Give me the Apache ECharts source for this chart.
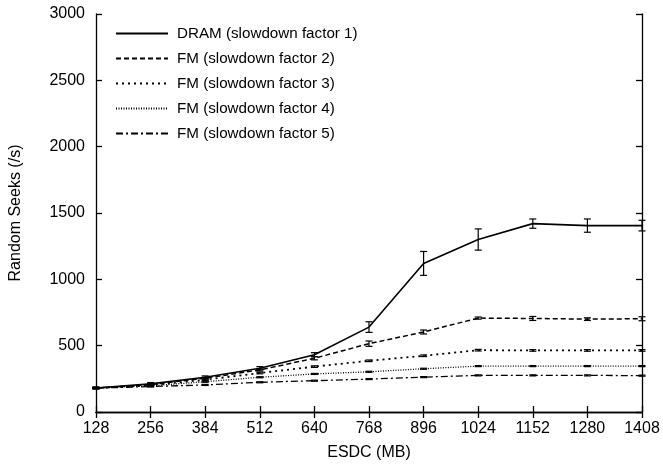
<!DOCTYPE html>
<html><head><meta charset="utf-8">
<script src="https://cdn.jsdelivr.net/npm/echarts@6/dist/echarts.min.js"></script>
<style>html,body{margin:0;padding:0;background:#fff}#c{width:663px;height:466px}</style>
</head><body><div id="c"></div>
<script>
var xs = [128, 256, 384, 512, 640, 768, 896, 1024, 1152, 1280, 1408];
var seriesNames = ['DRAM (slowdown factor 1)', 'FM (slowdown factor 2)', 'FM (slowdown factor 3)', 'FM (slowdown factor 4)', 'FM (slowdown factor 5)'];
var dram = [181, 212, 262, 330, 432, 640, 1120, 1300, 1420, 1405, 1405];
var fm2 = [181, 207, 255, 317, 405, 515, 603, 708, 705, 700, 703];
var fm3 = [181, 202, 243, 294, 342, 386, 424, 466, 464, 464, 464];
var fm4 = [181, 197, 228, 262, 287, 303, 326, 346, 346, 346, 346];
var fm5 = [180, 192, 204, 224, 236, 248, 263, 276, 276, 276, 274];
var dramErr = [8, 10, 10, 12, 15, 40, 90, 80, 35, 50, 40];
var fm2Err = [5, 6, 6, 8, 12, 20, 15, 8, 15, 10, 15];
var fm3Err = [4, 5, 5, 6, 6, 6, 6, 6, 6, 6, 6];
var fm4Err = [4, 4, 4, 4, 4, 4, 4, 4, 4, 4, 4];
var fm5Err = [4, 4, 4, 4, 4, 4, 4, 4, 4, 4, 4];
var yTicks = [0, 500, 1000, 1500, 2000, 2500, 3000];

var values = [dram, fm2, fm3, fm4, fm5];
var errs = [dramErr, fm2Err, fm3Err, fm4Err, fm5Err];
var dashes = ['solid', [5, 3], [2, 4], [1, 1.5], [7, 3, 2, 3]];
var widths = [1.6, 1.5, 1.8, 1.3, 1.3];

var series = [];
values.forEach(function (v, i) {
  series.push({
    name: seriesNames[i], type: 'line', symbol: 'none',
    data: xs.map(function (x, j) { return [x, v[j]]; }),
    lineStyle: { color: '#000', width: widths[i], type: dashes[i] },
    itemStyle: { color: '#000' }, z: 3
  });
  series.push({
    type: 'custom', silent: true, z: 4,
    data: xs.map(function (x, j) { return [x, v[j] - errs[i][j], v[j] + errs[i][j]]; }),
    renderItem: function (params, api) {
      var lo = api.coord([api.value(0), api.value(1)]);
      var hi = api.coord([api.value(0), api.value(2)]);
      var w = 3.5;
      var st = { stroke: '#000', lineWidth: 1.2, fill: null };
      return { type: 'group', children: [
        { type: 'line', shape: { x1: lo[0], y1: lo[1], x2: hi[0], y2: hi[1] }, style: st },
        { type: 'line', shape: { x1: lo[0] - w, y1: lo[1], x2: lo[0] + w, y2: lo[1] }, style: st },
        { type: 'line', shape: { x1: hi[0] - w, y1: hi[1], x2: hi[0] + w, y2: hi[1] }, style: st }
      ] };
    }
  });
});

var font = 'Liberation Sans, Arial, sans-serif';
var plain = function (v) { return String(v); };
var chart = echarts.init(document.getElementById('c'), null, { renderer: 'canvas' });
chart.setOption({
  animation: false,
  backgroundColor: '#fff',
  grid: { left: 95, right: 21, top: 14, bottom: 53, show: false },
  legend: {
    data: seriesNames, orient: 'vertical', left: 110, top: 21,
    itemWidth: 52, itemHeight: 14, itemGap: 10,
    itemStyle: { opacity: 0 },
    textStyle: { color: '#000', fontSize: 15.2, fontFamily: font, padding: [0, 0, 0, 4] }
  },
  xAxis: [{
    type: 'value', min: xs[0], max: xs[xs.length - 1], interval: 128,
    name: 'ESDC (MB)', nameLocation: 'middle', nameGap: 33,
    nameTextStyle: { color: '#000', fontSize: 16, fontFamily: font },
    axisLine: { lineStyle: { color: '#000', width: 1.3 } },
    axisTick: { inside: true, length: 6, lineStyle: { color: '#000', width: 1.3 } },
    axisLabel: { color: '#000', fontSize: 16, fontFamily: font, margin: 9, formatter: plain },
    splitLine: { show: false }
  }, {
    type: 'value', position: 'top', min: xs[0], max: xs[xs.length - 1], interval: 128,
    axisLine: { lineStyle: { color: '#000', width: 1.3 } },
    axisTick: { inside: true, length: 6, lineStyle: { color: '#000', width: 1.3 } },
    axisLabel: { show: false }, splitLine: { show: false }
  }],
  yAxis: [{
    type: 'value', min: yTicks[0], max: yTicks[yTicks.length - 1], interval: 500,
    name: 'Random Seeks (/s)', nameLocation: 'middle', nameGap: 72,
    nameTextStyle: { color: '#000', fontSize: 16, fontFamily: font },
    axisLine: { show: true, lineStyle: { color: '#000', width: 1.3 } },
    axisTick: { show: true, inside: true, length: 6, lineStyle: { color: '#000', width: 1.3 } },
    axisLabel: { color: '#000', fontSize: 16, fontFamily: font, margin: 11, formatter: plain },
    splitLine: { show: false }
  }, {
    type: 'value', position: 'right', min: yTicks[0], max: yTicks[yTicks.length - 1], interval: 500,
    axisLine: { show: true, lineStyle: { color: '#000', width: 1.3 } },
    axisTick: { show: true, inside: true, length: 6, lineStyle: { color: '#000', width: 1.3 } },
    axisLabel: { show: false }, splitLine: { show: false }
  }],
  series: series
});
</script></body></html>
